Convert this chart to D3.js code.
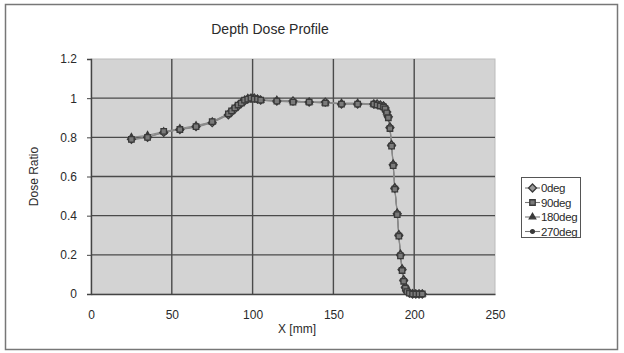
<!DOCTYPE html>
<html>
<head>
<meta charset="utf-8">
<script src="https://cdn.jsdelivr.net/npm/d3@7"></script>
<style>
  body { margin: 0; background: #fff; }
  text { font-family: "Liberation Sans", Arial, sans-serif; fill: #2a2a2a; }
</style>
</head>
<body>
<svg width="624" height="353"></svg>
<script>
// depth positions (mm)
var depth = [25, 35, 45, 55, 65, 75, 85, 87, 89, 91, 93, 95, 97, 99, 101, 103, 105,
  115, 125, 135, 145, 155, 165, 175, 177, 179, 181, 182, 183, 184, 185, 186, 187, 188,
  189.5, 190.5, 191.5, 192.5, 193.5, 194.5, 195.5, 197, 199, 201, 203, 205];

var dose0 = [0.79, 0.80, 0.825, 0.84, 0.855, 0.875, 0.915, 0.93, 0.945, 0.96, 0.975, 0.985, 0.995, 1.0, 1.0, 0.995, 0.99,
  0.985, 0.985, 0.98, 0.98, 0.97, 0.97, 0.97, 0.97, 0.965, 0.96, 0.95, 0.93, 0.905, 0.85, 0.76, 0.66, 0.54,
  0.41, 0.30, 0.20, 0.125, 0.07, 0.035, 0.015, 0.005, 0.0, 0.0, 0.0, 0.0];
var dose90 = [0.79, 0.80, 0.83, 0.84, 0.855, 0.88, 0.92, 0.935, 0.95, 0.965, 0.975, 0.99, 0.995, 1.0, 0.995, 0.995, 0.99,
  0.985, 0.98, 0.98, 0.975, 0.97, 0.97, 0.97, 0.965, 0.96, 0.955, 0.945, 0.925, 0.9, 0.845, 0.755, 0.655, 0.535,
  0.405, 0.295, 0.195, 0.12, 0.065, 0.03, 0.012, 0.004, 0.0, 0.0, 0.0, 0.0];
var dose180 = [0.80, 0.81, 0.83, 0.845, 0.86, 0.88, 0.92, 0.935, 0.95, 0.965, 0.98, 0.99, 1.0, 1.0, 1.0, 0.995, 0.99,
  0.99, 0.985, 0.98, 0.975, 0.975, 0.975, 0.97, 0.97, 0.965, 0.96, 0.95, 0.93, 0.91, 0.855, 0.765, 0.665, 0.545,
  0.415, 0.305, 0.205, 0.13, 0.075, 0.04, 0.018, 0.006, 0.002, 0.0, 0.0, 0.0];
var dose270 = [0.785, 0.80, 0.825, 0.84, 0.85, 0.875, 0.915, 0.93, 0.945, 0.96, 0.975, 0.985, 0.995, 0.995, 1.0, 0.995, 0.99,
  0.985, 0.985, 0.98, 0.98, 0.97, 0.97, 0.965, 0.965, 0.96, 0.955, 0.945, 0.93, 0.9, 0.85, 0.76, 0.66, 0.54,
  0.41, 0.30, 0.20, 0.125, 0.07, 0.035, 0.015, 0.005, 0.0, 0.0, 0.0, 0.0];

var seriesNames = ["0deg", "90deg", "180deg", "270deg"];
var seriesSymbols = [d3.symbolDiamond2, d3.symbolSquare, d3.symbolTriangle, d3.symbolCircle];
var xTicks = [0, 50, 100, 150, 200, 250];
var yTicks = [0, 0.2, 0.4, 0.6, 0.8, 1, 1.2];

var svg = d3.select("svg");

var margin = {left: 91, right: 129, top: 59, bottom: 59};
var width = 624 - margin.left - margin.right,
    height = 353 - margin.top - margin.bottom;

// outer chart border
svg.append("rect")
    .attr("x", 5.5).attr("y", 4.5)
    .attr("width", 612).attr("height", 345)
    .attr("fill", "#fff")
    .attr("stroke", "#777")
    .attr("stroke-width", 1.5);

svg.append("text")
    .attr("x", 270).attr("y", 34)
    .attr("text-anchor", "middle")
    .style("font-size", "14px")
    .text("Depth Dose Profile");

var g = svg.append("g").attr("transform", "translate(" + margin.left + "," + margin.top + ")");

var x = d3.scaleLinear().domain([0, 250]).range([0, width]);
var y = d3.scaleLinear().domain([0, 1.2]).range([height, 0]);

g.append("rect")
    .attr("width", width).attr("height", height)
    .attr("fill", "#d3d3d3")
    .attr("stroke", "#bbb");

// grid
g.append("g").selectAll("line")
    .data(yTicks.slice(1, -1))
  .enter().append("line")
    .attr("x1", 0).attr("x2", width)
    .attr("y1", function(d) { return y(d); })
    .attr("y2", function(d) { return y(d); })
    .attr("stroke", "#4a4a4a").attr("stroke-width", 1.4);

g.append("g").selectAll("line")
    .data(xTicks.slice(1, -1))
  .enter().append("line")
    .attr("y1", 0).attr("y2", height)
    .attr("x1", function(d) { return x(d); })
    .attr("x2", function(d) { return x(d); })
    .attr("stroke", "#4a4a4a").attr("stroke-width", 1.4);

// axes
var xAxis = g.append("g")
    .attr("transform", "translate(0," + height + ")")
    .call(d3.axisBottom(x).tickValues(xTicks).tickSize(0).tickPadding(16));
var yAxis = g.append("g")
    .call(d3.axisLeft(y).tickValues(yTicks).tickSize(4).tickPadding(10)
      .tickFormat(function(d) { return d3.format("~g")(d); }));

[xAxis, yAxis].forEach(function(a) {
  a.select(".domain").attr("stroke", "#444").attr("stroke-width", 1.4);
  a.selectAll(".tick line").attr("stroke", "#444");
  a.selectAll("text").style("font-size", "12px").attr("fill", "#2a2a2a");
});

g.append("text")
    .attr("x", width / 2 + 4).attr("y", height + 39)
    .attr("text-anchor", "middle")
    .style("font-size", "12px")
    .text("X [mm]");

g.append("text")
    .attr("transform", "translate(" + (-53) + "," + (height / 2) + ") rotate(-90)")
    .attr("text-anchor", "middle")
    .style("font-size", "12px")
    .text("Dose Ratio");

var data = [dose0, dose90, dose180, dose270].map(function(vals, i) {
  return {name: seriesNames[i], symbol: seriesSymbols[i], index: i,
          values: depth.map(function(d, j) { return {x: d, y: vals[j]}; })};
});

var line = d3.line()
    .x(function(d) { return x(d.x); })
    .y(function(d) { return y(d.y); });

function drawMarker(sel, s) {
  var sizes = [40, 30, 18, 12];
  var fills = ["#9a9a9a", "#7a7a7a", "#3a3a3a", "#3a3a3a"];
  sel.attr("d", d3.symbol().type(s.symbol).size(sizes[s.index]))
     .attr("fill", fills[s.index])
     .attr("stroke", "#3a3a3a")
     .attr("stroke-width", 1.3);
}

data.forEach(function(s) {
  g.append("path")
      .datum(s.values)
      .attr("fill", "none")
      .attr("stroke", "#8a8a8a")
      .attr("stroke-width", 1.1)
      .attr("d", line);
});

// draw markers so the squares sit on top, like the reference
[2, 3, 0, 1].forEach(function(i) {
  var s = data[i];
  g.append("g").selectAll("path")
      .data(s.values)
    .enter().append("path")
      .attr("transform", function(d) { return "translate(" + x(d.x) + "," + y(d.y) + ")"; })
      .call(drawMarker, s);
});

// legend
var legend = svg.append("g").attr("transform", "translate(521,177)");
legend.append("rect")
    .attr("x", 0.5).attr("y", 0.5)
    .attr("width", 59).attr("height", 60)
    .attr("fill", "#fff")
    .attr("stroke", "#555");

var item = legend.selectAll(".item")
    .data(data)
  .enter().append("g")
    .attr("class", "item")
    .attr("transform", function(d, i) { return "translate(0," + (11 + i * 14.5) + ")"; });

item.append("line")
    .attr("x1", 4).attr("x2", 19)
    .attr("stroke", "#777").attr("stroke-width", 1.1);
item.append("path")
    .attr("transform", "translate(11.5,0)")
    .each(function(d) { d3.select(this).call(drawMarker, d); });
item.append("text")
    .attr("x", 20).attr("y", 4)
    .style("font-size", "11.5px")
    .attr("textLength", function(d) { return d.name.length * 6.1; })
    .text(function(d) { return d.name; });
</script>
</body>
</html>
